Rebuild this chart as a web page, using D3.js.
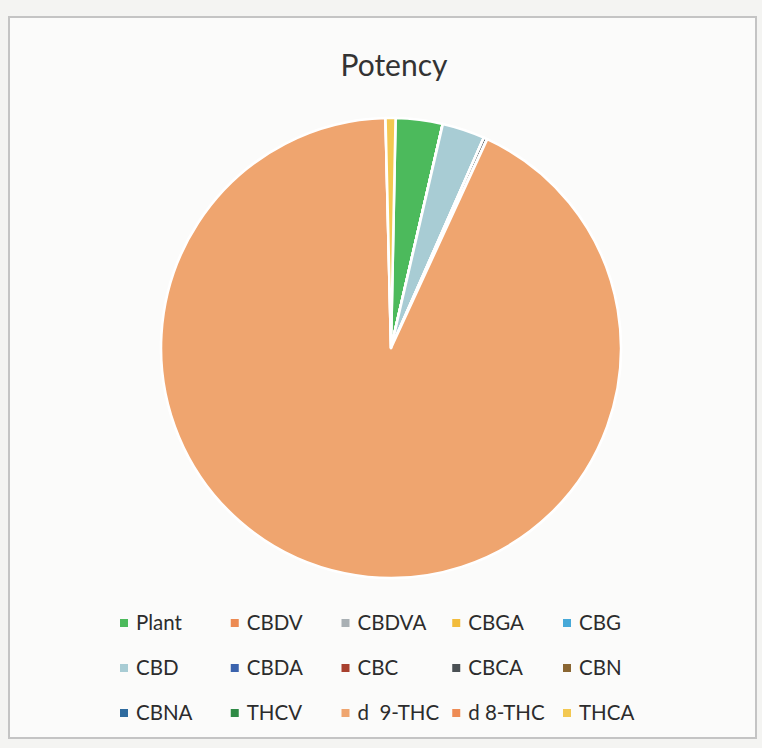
<!DOCTYPE html>
<html>
<head>
<meta charset="utf-8">
<script src="https://cdn.jsdelivr.net/npm/d3@7"></script>
<style>
  body { margin: 0; background: #f4f4f2; }
  svg { display: block; }
</style>
</head>
<body>
<svg width="762" height="748"></svg>
<script>
// series, in the order the spreadsheet lists them
const categories = ["Plant", "CBDV", "CBDVA", "CBGA", "CBG",
  "CBD", "CBDA", "CBC", "CBCA", "CBN",
  "CBNA", "THCV", "d  9-THC", "d 8-THC", "THCA"];
// share of the pie (%)
const values = [3.3, 0, 0, 0, 0,
  3.0, 0, 0, 0.25, 0,
  0, 0, 92.75, 0, 0.7];
const colors = ["#4cba5c", "#ec8a52", "#a9b0b4", "#f2bc3c", "#47a9d8",
  "#a8ccd4", "#3b63ad", "#a8402e", "#4a5054", "#8a6632",
  "#2f6b9e", "#2f8a45", "#efa56f", "#ee8c55", "#f3c851"];

const svg = d3.select("svg");

// chart area
svg.append("rect")
  .attr("x", 9).attr("y", 17)
  .attr("width", 747).attr("height", 721)
  .attr("fill", "#fbfbfa")
  .attr("stroke", "#c4c4c4")
  .attr("stroke-width", 2);

svg.append("text")
  .attr("x", 394).attr("y", 76)
  .attr("text-anchor", "middle")
  .attr("font-family", "Lato, 'Open Sans', sans-serif")
  .attr("font-size", 30)
  .attr("fill", "#333")
  .text("Potency");

const cx = 391, cy = 348, r = 230;

const pie = d3.pie().sort(null)
  .startAngle(0.02)
  .endAngle(0.02 + 2 * Math.PI);
const arc = d3.arc().innerRadius(0).outerRadius(r);

const data = categories.map((c, i) => ({ name: c, value: values[i], color: colors[i] }));

svg.append("g")
  .attr("transform", `translate(${cx},${cy})`)
  .selectAll("path")
  .data(pie.value(d => d.value)(data))
  .join("path")
  .attr("d", arc)
  .attr("fill", d => d.data.color)
  .attr("stroke", "#ffffff")
  .attr("stroke-width", 2.6)
  .attr("stroke-linejoin", "round");

// legend: 5 columns x 3 rows
const colX = d3.scalePoint().domain(d3.range(5)).range([120, 563]);
const rowY = d3.scalePoint().domain(d3.range(3)).range([623, 713]);

const leg = svg.append("g")
  .selectAll("g")
  .data(data)
  .join("g")
  .attr("transform", (d, i) => `translate(${colX(i % 5)},${rowY(Math.floor(i / 5))})`);

leg.append("rect")
  .attr("x", 0).attr("y", -4)
  .attr("width", 8).attr("height", 8)
  .attr("fill", d => d.color);

leg.append("text")
  .attr("x", 16).attr("y", 0)
  .attr("dy", "0.35em")
  .attr("font-family", "Lato, 'Open Sans', sans-serif")
  .attr("font-size", 20.5)
  .attr("fill", "#2c2c2c")
  .style("white-space", "pre")
  .text(d => d.name);
</script>
</body>
</html>
